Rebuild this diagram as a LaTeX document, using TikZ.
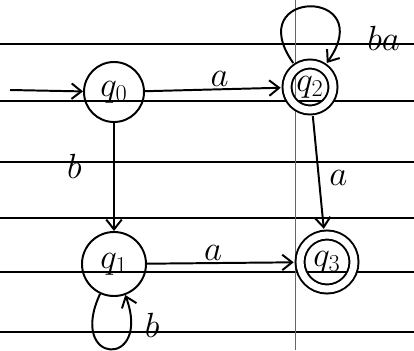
\documentclass[tikz,border=0pt]{standalone}
\usetikzlibrary{arrows.meta}
\begin{document}
\begin{tikzpicture}[x=0.025cm,y=-0.025cm,line width=1.4pt,
  state/.style={circle,draw,minimum size=1.5cm,inner sep=0pt,font=\fontsize{24}{26}\selectfont},
  accept/.style={state,double,double distance=5pt,outer sep=4.5pt},
  lbl/.style={font=\fontsize{30}{32}\selectfont,inner sep=1pt},
  >={Straight Barb[length=7pt,width=11pt]}]
  \useasboundingbox (0,0) rectangle (414,350);
  % ruled paper
  \foreach \y in {44,101,162,218,272,332}
    \draw[line width=1.2pt] (0,\y) -- (414,\y);
  \draw[line width=0.4pt,black!60] (295,0) -- (295,350);
  % states
  \node[state] (q0) at (114,92) {$q_0$};
  \node[state,minimum size=1.6cm] (q1) at (114,264) {$q_1$};
  \node[accept,minimum size=1.15cm] (q2) at (310,87) {$q_2$};
  \node[accept,minimum size=1.35cm] (q3) at (327,262) {$q_3$};
  \coordinate (start) at (10,90);
  % transitions
  \draw[->] (start) -- (q0);
  \draw[->] (q0) -- node[lbl,above,pos=0.55]{$a$} (q2);
  \draw[->] (q0) -- node[lbl,left=0.75cm,pos=0.4]{$b$} (q1);
  \draw[->] (q1) -- node[lbl,above,pos=0.45]{$a$} (q3);
  \draw[->] (q2) -- node[lbl,right=0.2cm,pos=0.55]{$a$} (q3);
  \draw[->] (q2) to[out=125,in=55,looseness=7] node[lbl,right=0.65cm,pos=0.85,yshift=-0.1cm]{$ba$} (q2);
  \draw[->] (q1) to[out=-115,in=-70,looseness=8] node[lbl,right=0.6cm,pos=0.6,yshift=0.55cm]{$b$} (q1);
\end{tikzpicture}
\end{document}
